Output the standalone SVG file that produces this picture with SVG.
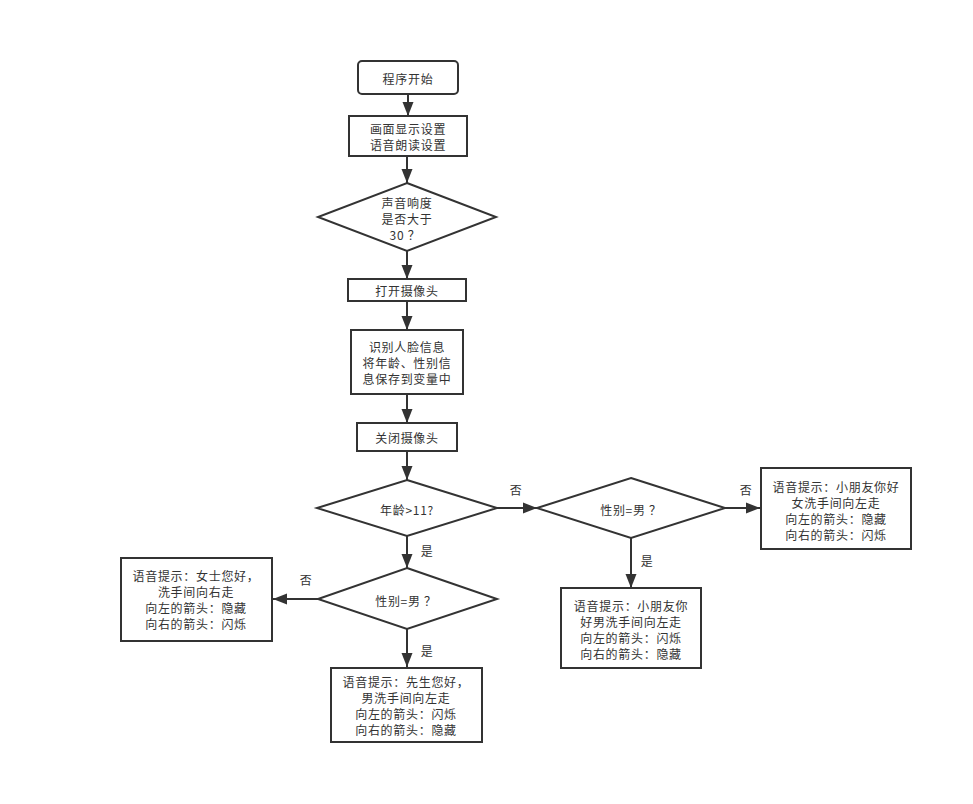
<svg xmlns="http://www.w3.org/2000/svg" width="973" height="804" viewBox="0 0 973 804">
<style>
.n{fill:#fff;stroke:#333;stroke-width:2}
.t{font-family:"Noto Sans CJK SC","Liberation Sans",sans-serif;font-size:12px;letter-spacing:0.7px;fill:#333;text-anchor:middle;dominant-baseline:central}
.c{fill:none;stroke:#333;stroke-width:2}
</style>
<defs>
<marker id="ah" markerUnits="userSpaceOnUse" markerWidth="14" markerHeight="12" refX="14" refY="6" orient="auto">
<path d="M0,0.5 L14,6 L0,11.5 Z" fill="#333"/>
</marker>
</defs>
<rect width="973" height="804" fill="#fff"/>
<g id="connectors">
<line class="c" x1="408" y1="94" x2="408" y2="116" marker-end="url(#ah)"/>
<line class="c" x1="407" y1="156" x2="407" y2="183" marker-end="url(#ah)"/>
<line class="c" x1="407" y1="251" x2="407" y2="279" marker-end="url(#ah)"/>
<line class="c" x1="407" y1="301" x2="407" y2="330" marker-end="url(#ah)"/>
<line class="c" x1="407" y1="394" x2="407" y2="423" marker-end="url(#ah)"/>
<line class="c" x1="407" y1="451" x2="407" y2="480" marker-end="url(#ah)"/>
<line class="c" x1="497" y1="508" x2="537" y2="508" marker-end="url(#ah)"/>
<line class="c" x1="725" y1="508" x2="760" y2="508" marker-end="url(#ah)"/>
<line class="c" x1="631" y1="538" x2="631" y2="588" marker-end="url(#ah)"/>
<line class="c" x1="407" y1="536" x2="407" y2="568" marker-end="url(#ah)"/>
<line class="c" x1="318" y1="599" x2="273" y2="599" marker-end="url(#ah)"/>
<line class="c" x1="407" y1="629" x2="407" y2="667" marker-end="url(#ah)"/>
<text class="t" x="516" y="489">否</text>
<text class="t" x="746" y="489">否</text>
<text class="t" x="647" y="560">是</text>
<text class="t" x="427" y="550">是</text>
<text class="t" x="306" y="579">否</text>
<text class="t" x="427" y="650">是</text>
</g>
<g id="start">
<rect class="n" x="358" y="61" width="100" height="33" rx="4"/>
<text class="t" x="408" y="78">程序开始</text>
</g>
<g id="settings">
<rect class="n" x="349" y="116" width="118" height="40"/>
<text class="t" x="408" y="128">画面显示设置</text>
<text class="t" x="408" y="144">语音朗读设置</text>
</g>
<g id="volume">
<polygon class="n" points="407,183 496,217 407,251 318,217"/>
<text class="t" x="407" y="202">声音响度</text>
<text class="t" x="407" y="218">是否大于</text>
<text class="t" x="405" y="234">30 ？</text>
</g>
<g id="open-camera">
<rect class="n" x="348" y="279" width="118" height="22"/>
<text class="t" x="407" y="290">打开摄像头</text>
</g>
<g id="recognize">
<rect class="n" x="351" y="330" width="112" height="64"/>
<text class="t" x="407" y="346">识别人脸信息</text>
<text class="t" x="407" y="362">将年龄、性别信</text>
<text class="t" x="407" y="378">息保存到变量中</text>
</g>
<g id="close-camera">
<rect class="n" x="357" y="423" width="100" height="28"/>
<text class="t" x="407" y="437">关闭摄像头</text>
</g>
<g id="age">
<polygon class="n" points="407,480 497,508 407,536 317,508"/>
<text class="t" x="407" y="509">年龄&gt;11?</text>
</g>
<g id="gender-child">
<polygon class="n" points="631,478 725,508 631,538 537,508"/>
<text class="t" x="631" y="509">性别=男 ？</text>
</g>
<g id="girl">
<rect class="n" x="761" y="468" width="150" height="81"/>
<text class="t" x="836" y="486">语音提示：小朋友你好</text>
<text class="t" x="836" y="502">女洗手间向左走</text>
<text class="t" x="836" y="518">向左的箭头：隐藏</text>
<text class="t" x="836" y="534">向右的箭头：闪烁</text>
</g>
<g id="boy">
<rect class="n" x="561" y="588" width="140" height="80"/>
<text class="t" x="631" y="605">语音提示：小朋友你</text>
<text class="t" x="631" y="621">好男洗手间向左走</text>
<text class="t" x="631" y="637">向左的箭头：闪烁</text>
<text class="t" x="631" y="653">向右的箭头：隐藏</text>
</g>
<g id="gender-adult">
<polygon class="n" points="407,568 497,599 407,629 318,599"/>
<text class="t" x="406" y="600">性别=男 ？</text>
</g>
<g id="lady">
<rect class="n" x="121" y="558" width="151" height="83"/>
<text class="t" x="196" y="575">语音提示：女士您好，</text>
<text class="t" x="196" y="591">洗手间向右走</text>
<text class="t" x="196" y="607">向左的箭头：隐藏</text>
<text class="t" x="196" y="623">向右的箭头：闪烁</text>
</g>
<g id="gentleman">
<rect class="n" x="331" y="668" width="151" height="74"/>
<text class="t" x="406" y="681">语音提示：先生您好，</text>
<text class="t" x="406" y="697">男洗手间向左走</text>
<text class="t" x="406" y="713">向左的箭头：闪烁</text>
<text class="t" x="406" y="729">向右的箭头：隐藏</text>
</g>
</svg>
